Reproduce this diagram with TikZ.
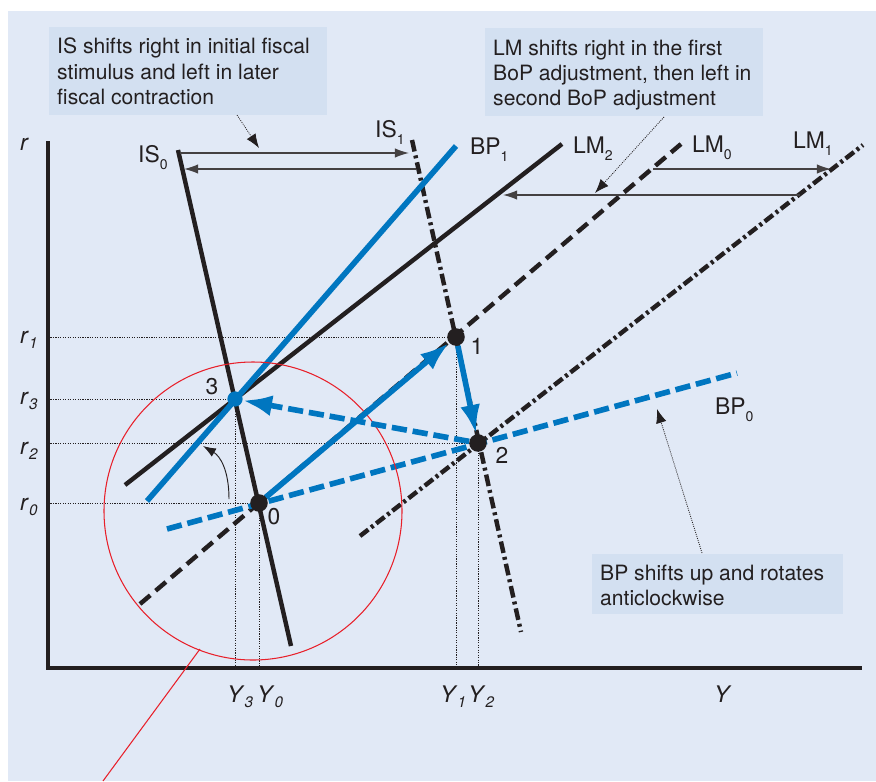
\documentclass[tikz,border=0pt]{standalone}
\usepackage{fontspec}
\setmainfont{TeX Gyre Heros}
\usetikzlibrary{arrows.meta}
\definecolor{panel}{HTML}{E1E9F6}
\definecolor{boxfill}{HTML}{D3E0F1}
\definecolor{ecoblue}{HTML}{0076C0}
\definecolor{ink}{HTML}{231F20}
\definecolor{ecored}{HTML}{E8202A}
\newcommand\lsub[1]{\raisebox{-6pt}{\fontsize{12pt}{12pt}\selectfont #1}}
\newcommand\rsub[1]{\raisebox{-5pt}{\fontsize{13pt}{13pt}\selectfont\itshape #1}}
\begin{document}
\begin{tikzpicture}[x=0.03cm,y=-0.03cm,
  boxtext/.style={anchor=base west, inner sep=0, font=\fontsize{18pt}{21pt}\selectfont, text=ink},
  lbl/.style={anchor=base west, inner sep=0, font=\fontsize{19.5pt}{22pt}\selectfont, text=ink},
  ptlbl/.style={inner sep=0, font=\fontsize{19.5pt}{22pt}\selectfont, text=ink},
  calloutbox/.style={fill=boxfill, draw=none},
  guide/.style={ink, line width=0.85pt, dash pattern=on 1pt off 1.1pt},
  pointer/.style={ink, line width=0.7pt, dash pattern=on 0.8pt off 1pt, -{Latex[length=12pt,width=9pt]}},
  shiftarrow/.style={ink!85, line width=1.1pt, -{Latex[length=12pt,width=8pt]}},
  axisline/.style={ink, line width=2.6pt},
  isline/.style={ink, line width=3.8pt},
  isdash/.style={ink, line width=3.8pt, dash pattern=on 10pt off 3.5pt on 2.5pt off 3.5pt},
  lmdash/.style={ink, line width=3.8pt, dash pattern=on 11.5pt off 6pt},
  lmdd/.style={ink, line width=3.8pt, dash pattern=on 9pt off 3pt on 2.5pt off 3pt},
  lmsolid/.style={ink, line width=3.8pt},
  bpsolid/.style={ecoblue, line width=4.8pt},
  bpdash/.style={ecoblue, line width=4.8pt, dash pattern=on 13pt off 5pt},
  bluearrow/.style={ecoblue, line width=4.8pt, -{Latex[length=25pt,width=17pt]}},
  bluedasharrow/.style={ecoblue, line width=4.8pt, dash pattern=on 13pt off 5pt, -{Latex[length=25pt,width=18pt]}},
  blackdot/.style={circle, fill=ink, inner sep=0, minimum size=15pt},
  bluedot/.style={circle, fill=ecoblue, inner sep=0, minimum size=13pt}
]
\useasboundingbox (0,0) rectangle (876,781);
\fill[white] (0,0) rectangle (876,781);
\fill[panel] (8,11) rectangle (876,781);

% callout boxes
\fill[calloutbox] (49,27) rectangle (327,115);
\node[boxtext] (isa) at (57,53) {IS shifts right in initial fiscal};
\node[boxtext] (isb) at (57,79) {stimulus and left in later};
\node[boxtext] (isc) at (57,104) {fiscal contraction};
\fill[calloutbox] (485,28) rectangle (763,116);
\node[boxtext] (lma) at (493,55) {LM shifts right in the first};
\node[boxtext] (lmb) at (493,80) {BoP adjustment, then left in};
\node[boxtext] (lmc) at (493,105) {second BoP adjustment};
\fill[calloutbox] (592,554) rectangle (843,614);
\node[boxtext] (bpa) at (600,580) {BP shifts up and rotates};
\node[boxtext] (bpb) at (600,605) {anticlockwise};

% equilibrium points
\coordinate (c0) at (259,503);
\coordinate (c1) at (456,337);
\coordinate (c2) at (478,443);
\coordinate (c3) at (235,399);

% guides
\draw[guide] (48,337) -- (c1);
\draw[guide] (48,399) -- (c3);
\draw[guide] (48,443) -- (c2);
\draw[guide] (48,503) -- (c0);
\draw[guide] (c3) -- (235,668);
\draw[guide] (c0) -- (259,668);
\draw[guide] (c1) -- (456,668);
\draw[guide] (c2) -- (478,668);

% axes
\draw[axisline] (48,141) -- (48,668) -- (862,668);

% curves
\draw[isline] (178,150) -- (291,646);
\draw[isdash] (412,140) -- (521,632);
\draw[lmdash] (140,604) -- (681,144);
\draw[lmdd] (360,536) -- (863,145);
\draw[lmsolid] (125,485) -- (562,144);
\draw[bpsolid] (147,501) -- (456,146);
\draw[bpdash] (167,529) -- (737,373);

% red circle
\draw[ecored, line width=0.9pt] (253,511) circle [radius=149];
\coordinate (redA) at (200,649);
\coordinate (redB) at (103,781);
\draw[ecored, line width=0.9pt] (redA) -- (redB);

% rotation arrow
\coordinate (rotA) at (229,499);
\coordinate (rotB) at (203,446);
\draw[ink, line width=0.8pt, -{Latex[length=11pt,width=8pt]}] (rotA) .. controls (229,470) and (220,456) .. (rotB);

% shift arrows
\coordinate (s1a) at (180,153); \coordinate (s1b) at (409,153);
\coordinate (s2a) at (416,169); \coordinate (s2b) at (184,169);
\coordinate (s3a) at (653,169); \coordinate (s3b) at (831,169);
\coordinate (s4a) at (800,195); \coordinate (s4b) at (503,195);
\draw[shiftarrow] (s1a) -- (s1b);
\draw[shiftarrow] (s2a) -- (s2b);
\draw[shiftarrow] (s3a) -- (s3b);
\draw[shiftarrow] (s4a) -- (s4b);

% pointers
\coordinate (q1a) at (237,115); \coordinate (q1b) at (259,148);
\coordinate (q2a) at (664,117); \coordinate (q2b) at (595,193);
\coordinate (q3a) at (702,553); \coordinate (q3b) at (657,409);
\draw[pointer] (q1a) -- (q1b);
\draw[pointer] (q2a) -- (q2b);
\draw[pointer] (q3a) -- (q3b);

% dots
\node[blackdot] (p0) at (c0) {};
\node[blackdot] (p1) at (c1) {};
\node[blackdot] (p2) at (c2) {};
\node[bluedot] (p3) at (c3) {};

% blue adjustment arrows
\draw[bluearrow] (p0) -- (p1);
\draw[bluearrow] (p1) -- (p2);
\draw[bluedasharrow] (p2) -- (p3);

% point labels
\node[ptlbl] (l0) at (274,517) {0};
\node[ptlbl] (l1) at (477,346) {1};
\node[ptlbl] (l2) at (502,455) {2};
\node[ptlbl] (l3) at (212,387) {3};

% curve labels
\node[lbl] (tis0) at (138,162) {IS\lsub{0}};
\node[lbl] (tis1) at (375,137) {IS\lsub{1}};
\node[lbl] (tbp1) at (470,154) {BP\lsub{1}};
\node[lbl] (tlm2) at (573,153) {LM\lsub{2}};
\node[lbl] (tlm0) at (692,152) {LM\lsub{0}};
\node[lbl] (tlm1) at (793,148) {LM\lsub{1}};
\node[lbl] (tbp0) at (715,414) {BP\lsub{0}};

% axis labels
\node[lbl] (tr) at (20,150) {\textit{r}};
\node[lbl] (tr1) at (20,343) {\textit{r}\rsub{1}};
\node[lbl] (tr3) at (20,404) {\textit{r}\rsub{3}};
\node[lbl] (tr2) at (20,454) {\textit{r}\rsub{2}};
\node[lbl] (tr0) at (20,510) {\textit{r}\rsub{0}};
\node[lbl] (ty3) at (227,702) {\textit{Y}\rsub{3}};
\node[lbl] (ty0) at (257,702) {\textit{Y}\rsub{0}};
\node[lbl] (ty1) at (440,702) {\textit{Y}\rsub{1}};
\node[lbl] (ty2) at (468,702) {\textit{Y}\rsub{2}};
\node[lbl] (ty) at (714,702) {\textit{Y}};
\end{tikzpicture}
\end{document}
